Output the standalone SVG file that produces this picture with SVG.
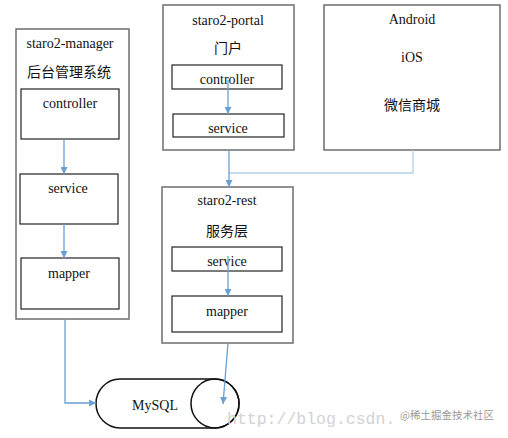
<svg xmlns="http://www.w3.org/2000/svg" width="508" height="438" viewBox="0 0 508 438">
<style>
.outer{fill:#fff;stroke:#6e6e6e;stroke-width:1.5}
.inner{fill:#fff;stroke:#222;stroke-width:1.2}
.t{font-family:"Liberation Serif","Noto Sans CJK SC",serif;font-size:14px;fill:#111;text-anchor:middle}
.c{font-family:"Liberation Serif","Noto Sans CJK SC",serif;font-size:14px;fill:#111;text-anchor:middle}
.ln{fill:none;stroke:#6a9fd4;stroke-width:1.3}
.ln2{fill:none;stroke:#b3cfea;stroke-width:1.3}
.wm{font-family:"Liberation Mono",monospace;font-size:16.5px;fill:#d2d2d2}
.wm2{font-family:"Noto Sans CJK SC",sans-serif;font-size:10.5px;fill:#9a9a9a}
</style>
<defs>
<marker id="ah" viewBox="0 0 10 10" refX="10" refY="5" markerWidth="7" markerHeight="7" markerUnits="userSpaceOnUse" orient="auto">
<path d="M0,0 L10,5 L0,10 Z" fill="#6a9fd4"/>
</marker>
</defs>
<g id="manager">
<rect class="outer" x="16" y="29" width="113" height="290"/>
<text class="t" x="70" y="48">staro2-manager</text>
<text class="c" x="69" y="77">后台管理系统</text>
<rect class="inner" x="21" y="89" width="98" height="50"/>
<text class="t" x="70" y="108">controller</text>
<rect class="inner" x="20" y="174" width="98" height="50"/>
<text class="t" x="68" y="193">service</text>
<rect class="inner" x="21" y="258" width="98" height="51"/>
<text class="t" x="69" y="278">mapper</text>
</g>
<g id="portal">
<rect class="outer" x="163" y="5" width="131" height="145"/>
<text class="t" x="228" y="25">staro2-portal</text>
<text class="c" x="228" y="53">门户</text>
<rect class="inner" x="172" y="65" width="110" height="24"/>
<text class="t" x="227" y="84">controller</text>
<rect class="inner" x="173" y="114" width="111" height="23"/>
<text class="t" x="228" y="133">service</text>
</g>
<g id="clients">
<rect class="outer" x="324" y="5" width="176" height="145"/>
<text class="t" x="412" y="24">Android</text>
<text class="t" x="412" y="62">iOS</text>
<text class="c" x="412" y="110">微信商城</text>
</g>
<g id="rest">
<rect class="outer" x="162" y="187" width="131" height="156"/>
<text class="t" x="227" y="205">staro2-rest</text>
<text class="c" x="227" y="236">服务层</text>
<rect class="inner" x="172" y="247" width="110" height="24"/>
<text class="t" x="227" y="266">service</text>
<rect class="inner" x="172" y="296" width="110" height="36"/>
<text class="t" x="227" y="316">mapper</text>
</g>
<g id="mysql">
<path d="M120,379 L215,379 A24 24.5 0 0 1 215,428 L120,428 A24 24.5 0 0 1 120,379 Z" fill="#fff" stroke="#111" stroke-width="1.5"/>
<ellipse cx="215" cy="403.5" rx="24" ry="24.5" fill="none" stroke="#111" stroke-width="1.5"/>
<text class="t" x="155" y="410" font-size="15">MySQL</text>
</g>
<g id="connectors">
<line class="ln" x1="64" y1="139" x2="64" y2="174" marker-end="url(#ah)"/>
<line class="ln" x1="64" y1="224" x2="64" y2="258" marker-end="url(#ah)"/>
<line class="ln" x1="228" y1="80" x2="228" y2="114" marker-end="url(#ah)"/>
<line class="ln" x1="228" y1="256" x2="228" y2="296" marker-end="url(#ah)"/>
<polyline class="ln2" points="413,150 413,173 229,173"/>
<line class="ln" x1="229" y1="150" x2="229" y2="187" marker-end="url(#ah)"/>
<polyline class="ln" points="65,319 65,403 96,403" marker-end="url(#ah)"/>
<line class="ln" x1="228" y1="343" x2="223" y2="404" marker-end="url(#ah)"/>
</g>
<text class="wm" x="227" y="424">http://blog.csdn.</text>
<text class="wm2" x="400" y="419">@稀土掘金技术社区</text>
</svg>
